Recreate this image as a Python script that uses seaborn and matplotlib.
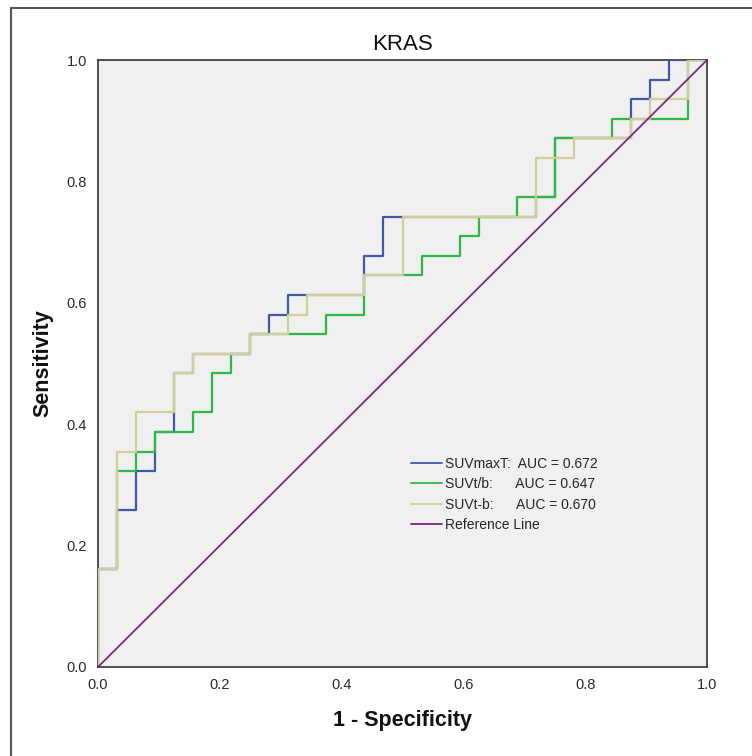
import numpy as np
import matplotlib
matplotlib.use("Agg")
import matplotlib.pyplot as plt
import seaborn as sns
from matplotlib.lines import Line2D

# ROC steps, as counts (32 negatives, 31 positives)
N_NEG = 32
N_POS = 31

suvmax_fp = [0, 0, 1, 2, 3, 4, 5, 8, 9, 10, 14, 15, 23, 24, 28, 29, 30, 32]
suvmax_tp = [0, 5, 8, 10, 12, 15, 16, 17, 18, 19, 21, 23, 24, 27, 29, 30, 31, 31]

suvtb_fp = [0, 0, 1, 2, 3, 5, 6, 7, 8, 12, 14, 17, 19, 20, 22, 24, 27, 31, 32]
suvtb_tp = [0, 5, 10, 11, 12, 13, 15, 16, 17, 18, 20, 21, 22, 23, 24, 27, 28, 31, 31]

suvtmb_fp = [0, 0, 1, 2, 4, 5, 8, 10, 11, 14, 16, 23, 25, 28, 29, 31, 32]
suvtmb_tp = [0, 5, 11, 13, 15, 16, 17, 18, 19, 20, 23, 26, 27, 28, 29, 31, 31]

ref_x = [0.0, 1.0]
ref_y = [0.0, 1.0]

labels = ["SUVmaxT:  AUC = 0.672",
          "SUVt/b:      AUC = 0.647",
          "SUVt-b:      AUC = 0.670",
          "Reference Line"]
colors = ["#3E58AC", "#2EB848", "#D3CE97", "#7C287D"]
ticks = [0.0, 0.2, 0.4, 0.6, 0.8, 1.0]

sns.set_style("white")
plt.rcParams["font.family"] = ["Liberation Sans", "DejaVu Sans"]

fig = plt.figure(figsize=(7.52, 7.56), dpi=100)
ax = fig.add_axes([98 / 752, 1 - 667 / 756, 609 / 752, 607 / 756])
ax.set_facecolor("#F0F0F0")

curves = [
    (suvmax_fp, suvmax_tp, colors[0]),
    (suvtb_fp, suvtb_tp, colors[1]),
    (suvtmb_fp, suvtmb_tp, colors[2]),
]
# draw order: green, blue, khaki (khaki ends up on top like in the original)
for idx in [1, 0, 2]:
    fp, tp, c = curves[idx]
    sns.lineplot(x=np.array(fp) / N_NEG, y=np.array(tp) / N_POS, ax=ax,
                 sort=False, estimator=None, color=c, linewidth=1.6,
                 drawstyle="steps-post", zorder=3 + idx)
sns.lineplot(x=ref_x, y=ref_y, ax=ax, sort=False, estimator=None,
             color=colors[3], linewidth=1.3, zorder=6)

ax.set_xlim(0, 1)
ax.set_ylim(0, 1)
ax.set_xticks(ticks)
ax.set_yticks(ticks)
ax.set_xticklabels([f"{t:.1f}" for t in ticks])
ax.set_yticklabels([f"{t:.1f}" for t in ticks])
ax.tick_params(axis="both", direction="out", length=6, width=1.2,
               color="#222222", labelsize=10.5, labelcolor="#2a2a2a", pad=2)
ax.tick_params(top=False, right=False)
for s in ax.spines.values():
    s.set_color("#333333")
    s.set_linewidth(1.2)

ax.set_title("KRAS", fontsize=16, pad=7, color="#111111")
ax.set_xlabel("1 - Specificity", fontsize=15.5, fontweight="bold",
              labelpad=13, color="#111111")
ax.set_ylabel("Sensitivity", fontsize=15.5, fontweight="bold",
              labelpad=9, color="#111111")

handles = [Line2D([0], [0], color=c, linewidth=1.3) for c in colors]
ax.legend(handles, labels, loc="upper left", bbox_to_anchor=(0.505, 0.355),
          frameon=False, fontsize=10, handlelength=2.2, handletextpad=0.25,
          labelspacing=0.45, borderaxespad=0)

# outer frame of the exported picture (left and top edges visible)
fig.add_artist(Line2D([11 / 752, 11 / 752], [0, 1 - 8 / 756],
                      color="#555555", linewidth=1.5))
fig.add_artist(Line2D([11 / 752, 1], [1 - 8 / 756, 1 - 8 / 756],
                      color="#555555", linewidth=1.5))

fig.savefig("out.png", dpi=100, facecolor="white")
